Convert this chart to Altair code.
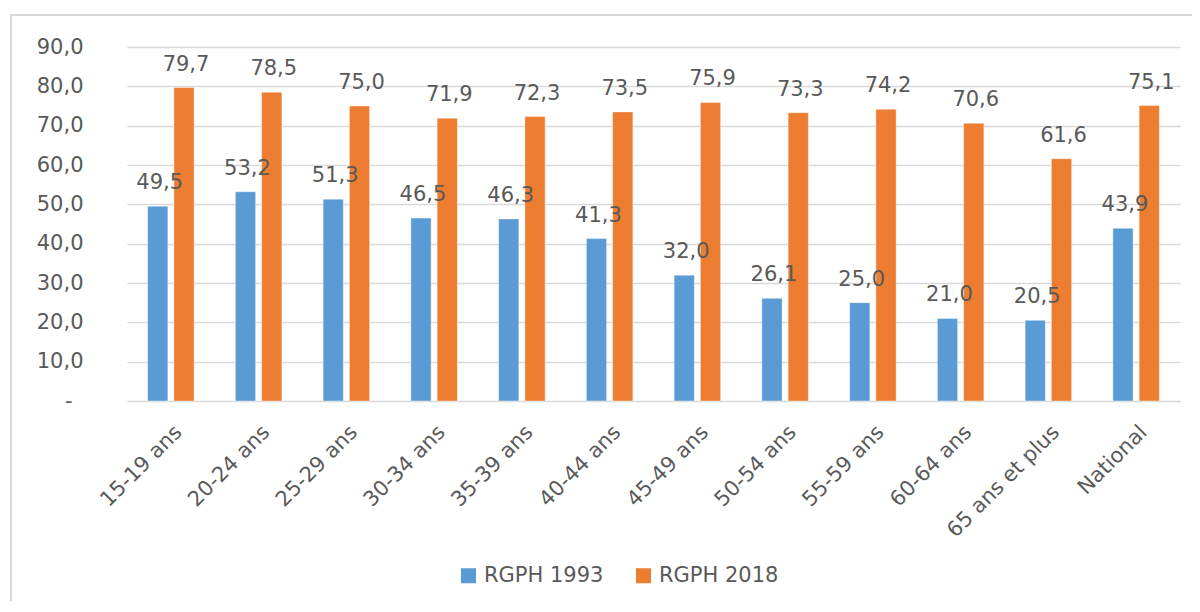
import altair as alt
import pandas as pd

categories = ["15-19 ans", "20-24 ans", "25-29 ans", "30-34 ans", "35-39 ans",
              "40-44 ans", "45-49 ans", "50-54 ans", "55-59 ans", "60-64 ans",
              "65 ans et plus", "National"]
rgph_1993 = [49.5, 53.2, 51.3, 46.5, 46.3, 41.3, 32.0, 26.1, 25.0, 21.0, 20.5, 43.9]
rgph_2018 = [79.7, 78.5, 75.0, 71.9, 72.3, 73.5, 75.9, 73.3, 74.2, 70.6, 61.6, 75.1]
series = ["RGPH 1993", "RGPH 2018"]
colors = ["#5B9BD5", "#ED7D31"]
y_ticks = [0, 10, 20, 30, 40, 50, 60, 70, 80, 90]

rows = []
for c, a, b in zip(categories, rgph_1993, rgph_2018):
    rows.append({"cat": c, "serie": series[0], "value": a})
    rows.append({"cat": c, "serie": series[1], "value": b})
df = pd.DataFrame(rows)

FONT = "DejaVu Sans"
W, H = 1053, 354

x_enc = alt.X("cat:N", sort=categories, title=None,
              scale=alt.Scale(paddingInner=0.47, paddingOuter=0.235),
              axis=alt.Axis(labelAngle=-45, labelFont=FONT, labelFontSize=21,
                            labelColor="#595959", domain=False, ticks=False,
                            labelPadding=20, grid=False))
xoff = alt.XOffset("serie:N", sort=series,
                   scale=alt.Scale(paddingInner=0.23, paddingOuter=0))
y_enc = alt.Y("value:Q", title=None,
              scale=alt.Scale(domain=[0, 90], nice=False),
              axis=alt.Axis(values=y_ticks, labelFont=FONT, labelFontSize=21,
                            labelColor="#595959", domain=False, ticks=False,
                            labelOverlap=False,
                            labelPadding={"condition": {"test": "datum.value == 0", "value": 55}, "value": 44},
                            gridColor="#D9D9D9", gridWidth=1.5,
                            labelExpr="datum.value == 0 ? '-' : replace(format(datum.value, '.1f'), '.', ',')"))

base = alt.Chart(df).encode(x=x_enc, xOffset=xoff, y=y_enc)

bars = base.mark_bar(stroke="white", strokeOpacity=0.4, strokeWidth=1).encode(
    color=alt.Color("serie:N", sort=series,
                    scale=alt.Scale(domain=series, range=colors),
                    legend=alt.Legend(title=None, orient="none", direction="horizontal",
                                      legendX=331, legendY=518, symbolType="square",
                                      symbolSize=225, symbolStrokeWidth=0,
                                      labelFont=FONT, labelFontSize=21,
                                      labelColor="#595959", labelOffset=5,
                                      columnPadding=29)),
)

labels = base.transform_calculate(
    lab="replace(format(datum.value, '.1f'), '.', ',')"
).mark_text(font=FONT, fontSize=21, color="#595959", baseline="alphabetic",
            dy=-17, dx=2).encode(
    text="lab:N",
)

frame = alt.Chart(pd.DataFrame({"k": [0]})).mark_rect(
    fill=None, stroke="#D9D9D9", strokeWidth=2
).encode(x=alt.value(-116), x2=alt.value(1200), y=alt.value(-32), y2=alt.value(700))

chart = alt.layer(frame, bars, labels).properties(
    width=W, height=H,
    background="white",
    autosize=alt.AutoSizeParams(type="none"),
    padding={"left": 119, "top": 39, "right": 12, "bottom": 200},
).configure_view(stroke=None)

chart.save("out.html", embed_options={"renderer": "svg", "actions": False})
